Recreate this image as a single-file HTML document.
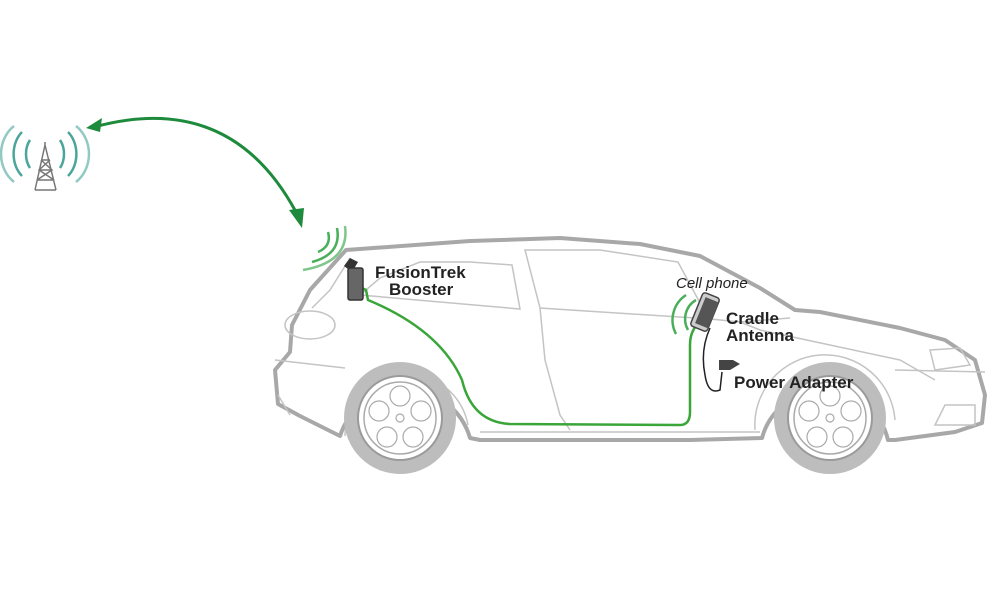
<!DOCTYPE html>
<html><head><meta charset="utf-8"><style>
html,body{margin:0;padding:0;background:#fff;width:1000px;height:590px;overflow:hidden}
svg{display:block}
text{font-family:"Liberation Sans",Arial,sans-serif}
</style></head><body>
<svg width="1000" height="590" viewBox="0 0 1000 590" xmlns="http://www.w3.org/2000/svg">
<!-- tower -->
<g stroke="#777" stroke-width="1.5" fill="none">
<path d="M45,145 L35,190 M45,145 L56,190 M45,145 L45,142"/>
<path d="M41,160 L50,160 M39,170 L52,170 M37,180 L54,180 M41,160 L52,170 L37,180 M50,160 L39,170 L54,180 M35,190 L56,190"/>
</g>
<g fill="none" stroke="#4aa59a" stroke-width="2.5">
<path d="M30,140 A14,20 0 0 0 30,168"/><path d="M22,132 A22,28 0 0 0 22,176"/><path d="M14,126 A30,34 0 0 0 14,182" opacity=".6"/>
<path d="M60,140 A14,20 0 0 1 60,168"/><path d="M68,132 A22,28 0 0 1 68,176"/><path d="M76,126 A30,34 0 0 1 76,182" opacity=".6"/>
</g>
<!-- arrow arc -->
<path d="M94,127 Q230,90 296,212" fill="none" stroke="#1e8a3c" stroke-width="3"/>
<path d="M86,128 L102,118 L100,132 Z" fill="#1e8a3c"/>
<path d="M302,228 L289,210 L304,208 Z" fill="#1e8a3c"/>
<!-- booster waves -->
<g fill="none" stroke="#4aae5a" stroke-width="2.5">
<path d="M328,232 Q332,246 318,252"/><path d="M337,228 Q342,254 312,262"/><path d="M345,226 Q350,262 303,270" opacity=".7"/>
</g>
<!-- car body -->
<g fill="none" stroke="#a8a8a8" stroke-width="4" stroke-linejoin="round">
<path d="M346,250 L470,241 L560,238 L640,244 L700,256 L760,288 L795,310 L820,312 L900,328 L945,340 L975,360 L985,395 L982,423 L955,432 L895,440 L888,440 A65,65 0 0 0 762,438 L690,440 L480,440 L470,438 A68,68 0 0 0 340,436 L300,416 L278,404 L275,370 L290,352 L292,325 L310,290 L346,250 Z"/>
</g>
<g fill="none" stroke="#c4c4c4" stroke-width="1.5">
<path d="M350,258 L330,290 L312,308 M360,295 L520,309 L512,265 L470,262 L420,262 L380,278 L360,295"/>
<path d="M525,250 L540,308 L695,318 L700,303 L678,262 L600,250 Z"/>
<path d="M540,308 L545,360 L560,415 L570,430"/>
<path d="M700,318 L740,322 L790,318 M740,322 L760,330 L900,360 L935,380"/>
<ellipse cx="310" cy="325" rx="25" ry="14"/>
<path d="M275,360 L345,368 M278,395 L290,415"/>
<path d="M345,436 A62,62 0 0 1 468,425 M755,430 A70,70 0 0 1 895,420"/>
<path d="M895,370 L985,372 M930,350 L960,348 L970,365 L935,370 Z M935,425 L945,405 L975,405 L975,425 Z"/>
<path d="M480,432 L760,432"/>
</g>
<!-- wheels -->
<g>
<circle cx="400" cy="418" r="49" fill="#fff" stroke="#bdbdbd" stroke-width="14"/>
<circle cx="400" cy="418" r="42" fill="none" stroke="#9a9a9a" stroke-width="2"/>
<circle cx="400" cy="418" r="36" fill="#fff" stroke="#aaa" stroke-width="1.5"/>
<circle cx="830" cy="418" r="49" fill="#fff" stroke="#bdbdbd" stroke-width="14"/>
<circle cx="830" cy="418" r="42" fill="none" stroke="#9a9a9a" stroke-width="2"/>
<circle cx="830" cy="418" r="36" fill="#fff" stroke="#aaa" stroke-width="1.5"/>
<g fill="none" stroke="#aaa" stroke-width="1.2">
<circle cx="400" cy="418" r="4"/><circle cx="830" cy="418" r="4"/>
<circle cx="400" cy="396" r="10"/><circle cx="421" cy="411" r="10"/><circle cx="413" cy="437" r="10"/><circle cx="387" cy="437" r="10"/><circle cx="379" cy="411" r="10"/>
<circle cx="830" cy="396" r="10"/><circle cx="851" cy="411" r="10"/><circle cx="843" cy="437" r="10"/><circle cx="817" cy="437" r="10"/><circle cx="809" cy="411" r="10"/>
</g>
</g>
<!-- green cable -->
<path d="M362,288 L366,290 L368,300 Q440,330 462,380 Q472,422 510,424 L680,425 Q690,425 690,412 L690,345 Q690,330 700,322" fill="none" stroke="#3aa63a" stroke-width="2.5"/>
<!-- booster -->
<path d="M344,266 L350,258 L358,262 L352,272 Z" fill="#333"/>
<rect x="348" y="268" width="15" height="32" rx="2" fill="#666" stroke="#333" stroke-width="1.5"/>
<text x="375" y="278" font-size="17" font-weight="bold" fill="#222">FusionTrek</text>
<text x="389" y="295" font-size="17" font-weight="bold" fill="#222">Booster</text>
<!-- phone waves -->
<g fill="none" stroke="#4aae5a" stroke-width="2.5">
<path d="M686,295 A30,30 0 0 0 676,334"/><path d="M696,300 A22,22 0 0 0 688,330"/>
</g>
<!-- phone cradle -->
<g transform="rotate(22 705 312)">
<rect x="696" y="294" width="18" height="36" rx="3" fill="#ccc" stroke="#444" stroke-width="1.5"/>
<rect x="700" y="298" width="14" height="28" fill="#555"/>
</g>
<path d="M710,328 Q700,350 705,375 Q708,395 720,390 L722,372" fill="none" stroke="#222" stroke-width="1.5"/>
<path d="M719,360 L733,360 L740,364 L730,370 L719,370 Z" fill="#444"/>
<text x="676" y="288" font-size="15" font-style="italic" fill="#222">Cell phone</text>
<text x="726" y="324" font-size="17" font-weight="bold" fill="#222">Cradle</text>
<text x="726" y="341" font-size="17" font-weight="bold" fill="#222">Antenna</text>
<text x="734" y="388" font-size="17" font-weight="bold" fill="#222">Power Adapter</text>
</svg>
</body></html>
